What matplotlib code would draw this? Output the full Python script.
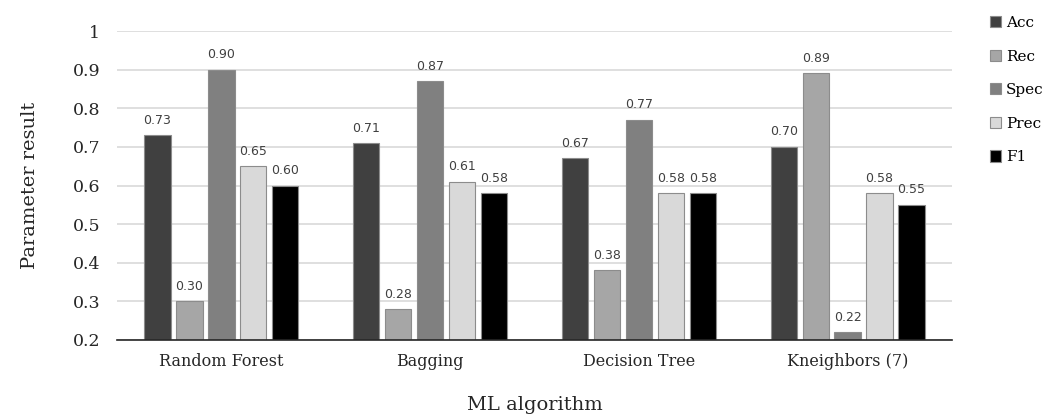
import numpy as np
import matplotlib
matplotlib.use("Agg")
import matplotlib.pyplot as plt

algorithms = ["Random Forest", "Bagging", "Decision Tree", "Kneighbors (7)"]
metrics = ["Acc", "Rec", "Spec", "Prec", "F1"]
acc = [0.73, 0.71, 0.67, 0.70]
rec = [0.30, 0.28, 0.38, 0.89]
spec = [0.90, 0.87, 0.77, 0.22]
prec = [0.65, 0.61, 0.58, 0.58]
f1 = [0.60, 0.58, 0.58, 0.55]
series = [acc, rec, spec, prec, f1]
colors = ["#404040", "#a6a6a6", "#808080", "#d9d9d9", "#000000"]
yticks = [0.2, 0.3, 0.4, 0.5, 0.6, 0.7, 0.8, 0.9, 1.0]
ytick_labels = ["0.2", "0.3", "0.4", "0.5", "0.6", "0.7", "0.8", "0.9", "1"]

plt.rcParams["font.family"] = ["DejaVu Serif"]

fig = plt.figure(figsize=(10.61, 4.18), dpi=100)
ax = fig.add_axes([117 / 1061, 1 - 340 / 418, (952 - 117) / 1061, (340 - 31) / 418])

x = np.arange(len(algorithms))
pitch = 0.153
width = 0.126
for i, (name, vals, col) in enumerate(zip(metrics, series, colors)):
    pos = x + (i - 2) * pitch
    ax.bar(pos, np.array(vals) - 0.2, width, bottom=0.2, color=col,
           edgecolor="#8c8c8c", linewidth=0.8, label=name, zorder=3)
    for p, v in zip(pos, vals):
        ax.text(p, v + 0.022, f"{v:.2f}", ha="center", va="bottom",
                fontsize=9, color="#404040", family="DejaVu Sans")

ax.set_xlim(-0.5, 3.5)
ax.set_ylim(0.2, 1.0)
ax.set_yticks(yticks)
ax.set_yticklabels(ytick_labels, fontsize=12.5, color="#262626")
ax.set_xticks(x)
ax.set_xticklabels(algorithms, fontsize=11.5, color="#262626")
ax.tick_params(axis="y", length=0, pad=12)
ax.tick_params(axis="x", length=0, pad=9)
ax.grid(axis="y", color="#d9d9d9", linewidth=1.2, zorder=0)
for s in ["top", "right", "left"]:
    ax.spines[s].set_visible(False)
ax.spines["bottom"].set_color("#262626")
ax.spines["bottom"].set_linewidth(1.2)
ax.spines["bottom"].set_zorder(4)

ax.set_ylabel("Parameter result", fontsize=14, color="#262626", labelpad=24)
fig.text((117 + 952) / 2 / 1061, 1 - 405 / 418, "ML algorithm", fontsize=14,
         color="#262626", ha="center", va="center")

ax.legend(loc="upper left", bbox_to_anchor=(1.038, 1.068), frameon=False,
          fontsize=11, handlelength=0.75, handleheight=0.75,
          handletextpad=0.3, labelspacing=1.28, borderaxespad=0)

fig.savefig("out.png", dpi=100)
